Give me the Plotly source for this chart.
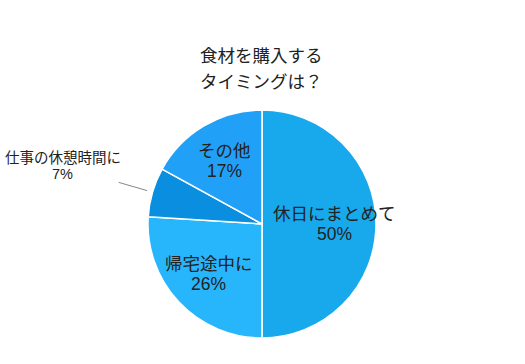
import math
import plotly.graph_objects as go

labels = ["休日にまとめて", "帰宅途中に", "仕事の休憩時間に", "その他"]
values = [50, 26, 7, 17]
colors = ["#17A9EC", "#27B5FB", "#0A8FE0", "#21A0F8"]
title_lines = ["食材を購入する", "タイミングは？"]

W, H = 525, 364
CX, CY, R = 262, 224, 114
FONT = "Liberation Sans, Noto Sans CJK JP, sans-serif"
TXT = "#222222"

dom_x = [(CX - R) / W, (CX + R) / W]
dom_y = [1 - (CY + R) / H, 1 - (CY - R) / H]

fig = go.Figure(go.Pie(
    labels=labels, values=values, sort=False, direction="clockwise", rotation=0,
    marker=dict(colors=colors, line=dict(color="white", width=1.5)),
    textinfo="none", hoverinfo="label+percent", showlegend=False,
    domain=dict(x=dom_x, y=dom_y),
))

def px2paper(x, y):
    return x / W, 1 - y / H

annotations = []
shapes = []

def add_text(x, y, text, size):
    px, py = px2paper(x, y)
    annotations.append(dict(x=px, y=py, xref="paper", yref="paper", showarrow=False,
                            text=text, font=dict(size=size, color=TXT, family=FONT),
                            xanchor="center", yanchor="middle", borderpad=0))

total = sum(values)
start = 0.0
for lab, v in zip(labels, values):
    frac = v / total
    mid = (start + frac / 2) * 2 * math.pi
    start += frac
    dx, dy = math.sin(mid), -math.cos(mid)
    pct = f"{round(frac * 100)}%"
    if frac >= 0.1:
        cx, cy = CX + dx * R * 0.64, CY + dy * R * 0.64
        add_text(cx, cy - 9.75, lab, 17.5)
        add_text(cx, cy + 10, pct, 17.5)
    else:
        x0, y0 = CX + dx * R * 1.05, CY + dy * R * 1.05
        x1, y1 = CX + dx * R * 1.31, CY + dy * R * 1.31
        p0 = px2paper(x0, y0)
        p1 = px2paper(x1, y1)
        shapes.append(dict(type="line", xref="paper", yref="paper", x0=p0[0], y0=p0[1],
                           x1=p1[0], y1=p1[1], line=dict(color="#888", width=1)))
        add_text(x1 - 56, y1 - 24.5, lab, 14.5)
        add_text(x1 - 56, y1 - 8.5, pct, 14.5)

add_text(261, 55.5, title_lines[0], 17.5)
add_text(261, 82, title_lines[1], 17.5)

fig.update_layout(
    width=W, height=H, margin=dict(l=0, r=0, t=0, b=0),
    paper_bgcolor="white", plot_bgcolor="white",
    annotations=annotations, shapes=shapes,
)
fig.write_html("out.html", config={"displayModeBar": False},
               post_script="document.body.style.margin='0';document.body.style.overflow='hidden';")
